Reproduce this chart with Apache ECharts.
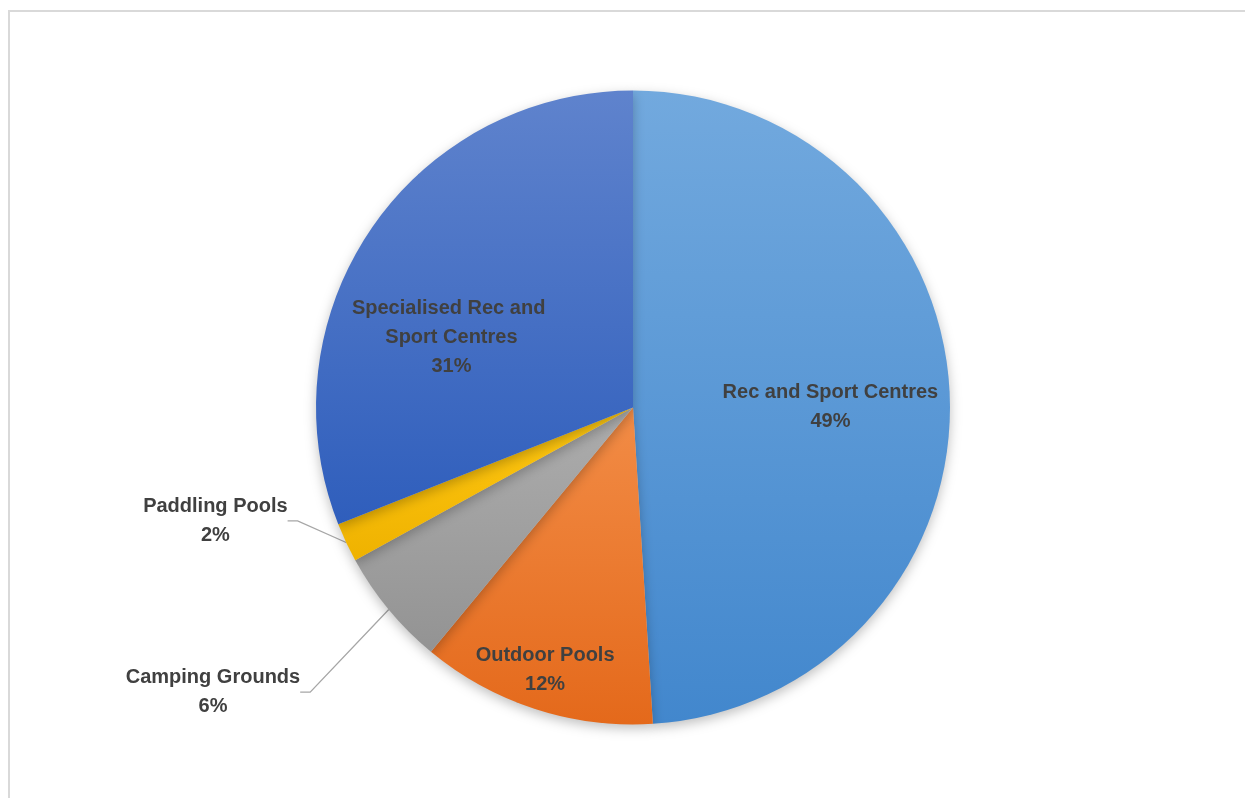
<!DOCTYPE html>
<html>
<head>
<meta charset="utf-8">
<script src="https://cdn.jsdelivr.net/npm/echarts@6/dist/echarts.min.js"></script>
<style>
html,body{margin:0;padding:0;background:#fff;}
#frame{position:absolute;left:8px;top:10px;width:1237px;height:788px;border-left:2px solid #d9d9d9;border-top:2px solid #d9d9d9;box-sizing:border-box;}
#chart{position:absolute;left:0;top:0;width:1245px;height:798px;}
</style>
</head>
<body>
<div id="frame"></div>
<div id="chart"></div>
<script>
const categories = ['Rec and Sport Centres', 'Outdoor Pools', 'Camping Grounds', 'Paddling Pools', 'Specialised Rec and Sport Centres'];
const values = [49, 12, 6, 2, 31];

const topColors = ['#72a9de', '#f28c46', '#adadad', '#ffc812', '#5f83cd'];
const bottomColors = ['#4287cd', '#e4691b', '#939393', '#efb200', '#2f5ebc'];
const labelPlacement = ['inside', 'inside', 'outside', 'outside', 'inside'];
const labelShift = [[36, 5], [-38, 109], [-62, 73], [-30, -28], [-48, 21]];

const chart = echarts.init(document.getElementById('chart'), null, {renderer: 'canvas'});

const data = categories.map((name, i) => ({
  name: name,
  value: values[i],
  itemStyle: {
    color: {
      type: 'linear', x: 0, y: 0, x2: 0, y2: 1,
      colorStops: [{offset: 0, color: topColors[i]}, {offset: 1, color: bottomColors[i]}]
    }
  },
  label: Object.assign({position: labelPlacement[i]},
    i === 4 ? {width: 215, overflow: 'break'} : {})
}));

chart.setOption({
  animation: false,
  series: [{
    type: 'pie',
    center: [633, 407.5],
    radius: [0, 317],
    startAngle: 90,
    clockwise: true,
    avoidLabelOverlap: false,
    percentPrecision: 0,
    data: data,
    itemStyle: {
      borderWidth: 0,
      shadowBlur: 12,
      shadowOffsetY: 4,
      shadowColor: 'rgba(0,0,0,0.25)'
    },
    label: {
      formatter: '{b}\n{d}%',
      fontFamily: '"Liberation Sans", Arial, sans-serif',
      fontWeight: 'bold',
      fontSize: 20,
      lineHeight: 29,
      color: '#404040',
      align: 'center'
    },
    labelLine: {
      show: true,
      length: 15,
      length2: 10,
      lineStyle: {color: '#a6a6a6', width: 1.3}
    },
    labelLayout: function (params) {
      const s = labelShift[params.dataIndex];
      const r = params.labelRect;
      return {
        x: r.x + r.width / 2 + s[0],
        y: r.y + r.height / 2 + s[1],
        align: 'center',
        verticalAlign: 'middle'
      };
    }
  }]
});
</script>
</body>
</html>
